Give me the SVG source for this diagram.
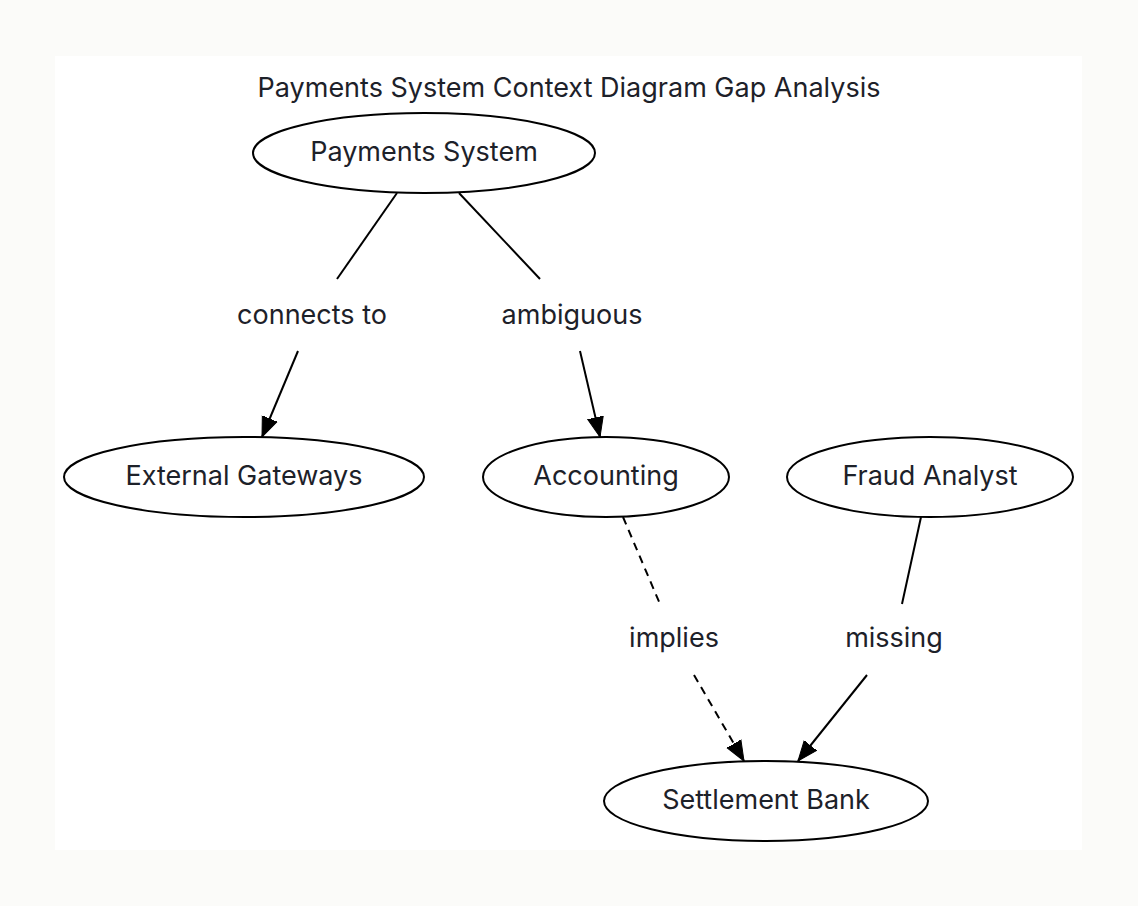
<svg xmlns="http://www.w3.org/2000/svg" width="1138" height="906" viewBox="0 0 1138 906">
<style>
text{font-family:Inter,"Noto Sans","Liberation Sans",sans-serif;font-size:27px;fill:#1d2129;text-anchor:middle}
.node ellipse{fill:#fff;stroke:#000;stroke-width:2}
.edge{stroke:#000;stroke-width:2;fill:none}
.dash{stroke-dasharray:8,6}
</style>
<defs>
<marker id="arr" markerUnits="userSpaceOnUse" markerWidth="24" markerHeight="20" refX="20" refY="8" orient="auto" viewBox="0 0 24 16">
<path d="M0,0 L20,8 L0,16 Z" fill="#000" stroke="#000" stroke-width="1"/>
</marker>
</defs>
<rect width="1138" height="906" fill="#fbfbf9"/>
<rect x="55" y="56" width="1027" height="794" fill="#fff"/>
<text x="569" y="97">Payments System Context Diagram Gap Analysis</text>
<g id="connectors">
<path class="edge" d="M397,193 L337,279"/>
<path class="edge" d="M298,351 L262,437" marker-end="url(#arr)"/>
<path class="edge" d="M459,193 L540,279"/>
<path class="edge" d="M580,351 L600,437" marker-end="url(#arr)"/>
<path class="edge dash" d="M623,517 L660,604"/>
<path class="edge dash" d="M694,675 L744,761" marker-end="url(#arr)"/>
<path class="edge" d="M921,517 L902,604"/>
<path class="edge" d="M867,675 L798,761" marker-end="url(#arr)"/>
<text x="312" y="324">connects to</text>
<text x="572" y="324">ambiguous</text>
<text x="674" y="647">implies</text>
<text x="894" y="647">missing</text>
</g>
<g id="payments-system" class="node"><ellipse cx="424" cy="153" rx="171" ry="40"/><text x="424" y="161">Payments System</text></g>
<g id="external-gateways" class="node"><ellipse cx="244" cy="477" rx="180" ry="40"/><text x="244" y="485">External Gateways</text></g>
<g id="accounting" class="node"><ellipse cx="606" cy="477" rx="123" ry="40"/><text x="606" y="485">Accounting</text></g>
<g id="fraud-analyst" class="node"><ellipse cx="930" cy="477" rx="143" ry="40"/><text x="930" y="485">Fraud Analyst</text></g>
<g id="settlement-bank" class="node"><ellipse cx="766" cy="801" rx="162" ry="40"/><text x="766" y="809">Settlement Bank</text></g>
</svg>
